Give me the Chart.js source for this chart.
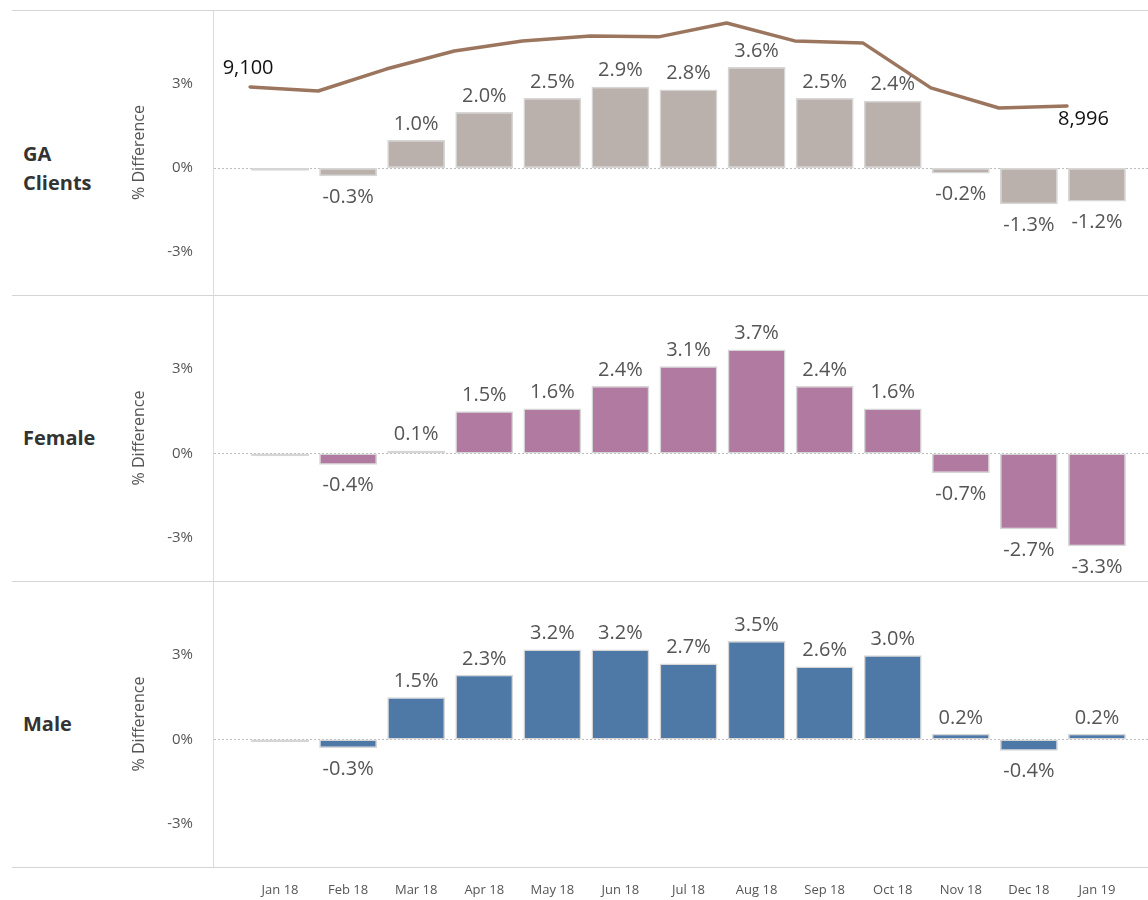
<!DOCTYPE html>
<html>
<head>
<meta charset="utf-8">
<script src="https://cdn.jsdelivr.net/npm/chart.js@4.4.1/dist/chart.umd.min.js"></script>
<style>
  html, body { margin: 0; padding: 0; background: #fff; }
  #page { position: relative; width: 1148px; height: 900px; overflow: hidden; font-family: 'Open Sans', sans-serif; }
  .panel { position: absolute; left: 0; }
  .rowlabel { position: absolute; left: 23px; font-weight: bold; font-size: 20px; color: #333; line-height: 29px; }
  .hline { position: absolute; left: 12px; right: 0; height: 0; border-top: 1.5px solid #d4d4d4; }
  .vline { position: absolute; left: 213px; top: 10px; height: 857px; border-left: 1px solid #dcdcdc; }
</style>
</head>
<body>
<div id="page">
  <div class="hline" style="top:10px"></div>
  <div class="hline" style="top:295px"></div>
  <div class="hline" style="top:581px"></div>
  <div class="hline" style="top:867px"></div>
  <div class="vline"></div>

  <div class="rowlabel" style="top:139px">GA<br>Clients</div>
  <div class="rowlabel" style="top:423px">Female</div>
  <div class="rowlabel" style="top:709px">Male</div>

  <div class="panel" style="top:10px"><canvas id="gaChart" width="1148" height="285"></canvas></div>
  <div class="panel" style="top:295px"><canvas id="femaleChart" width="1148" height="286"></canvas></div>
  <div class="panel" style="top:581px"><canvas id="maleChart" width="1148" height="319"></canvas></div>
</div>

<script>
// ---- data ----
const months = ['Jan 18', 'Feb 18', 'Mar 18', 'Apr 18', 'May 18', 'Jun 18', 'Jul 18',
                'Aug 18', 'Sep 18', 'Oct 18', 'Nov 18', 'Dec 18', 'Jan 19'];
// % difference vs baseline month (first month is the baseline sliver, unlabelled)
const gaClients = [-0.1, -0.3, 1.0, 2.0, 2.5, 2.9, 2.8, 3.6, 2.5, 2.4, -0.2, -1.3, -1.2];
const female    = [-0.1, -0.4, 0.1, 1.5, 1.6, 2.4, 3.1, 3.7, 2.4, 1.6, -0.7, -2.7, -3.3];
const male      = [-0.1, -0.3, 1.5, 2.3, 3.2, 3.2, 2.7, 3.5, 2.6, 3.0, 0.2, -0.4, 0.2];
// client count line (top panel)
const clientCounts = [9100, 9078, 9198, 9297, 9352, 9379, 9374, 9450, 9352, 9341, 9095, 8985, 8996];
const yTicks = [-3, 0, 3];

const FONT = "'Open Sans', sans-serif";
const baseColor = '#d9d9d9';

// dotted zero line across the whole pane
const zeroLine = {
  id: 'zeroLine',
  beforeDatasetsDraw(chart) {
    const y = Math.round(chart.scales.y.getPixelForValue(0)) + 0.5;
    const ctx = chart.ctx;
    ctx.save();
    ctx.strokeStyle = '#bdbdbd';
    ctx.lineWidth = 1;
    ctx.setLineDash([2, 2]);
    ctx.beginPath();
    ctx.moveTo(214, y);
    ctx.lineTo(chart.width, y);
    ctx.stroke();
    ctx.restore();
  }
};

// value labels on bars + end labels on the line
const valueLabels = {
  id: 'valueLabels',
  afterDatasetsDraw(chart) {
    const ctx = chart.ctx;
    chart.data.datasets.forEach((ds, di) => {
      const meta = chart.getDatasetMeta(di);
      ctx.save();
      if (ds.type === 'line') {
        ctx.font = '20px ' + FONT;
        ctx.fillStyle = '#111';
        const first = meta.data[0];
        const last = meta.data[meta.data.length - 1];
        ctx.textAlign = 'center';
        ctx.textBaseline = 'bottom';
        ctx.fillText(ds.data[0].y.toLocaleString('en-US'), first.x - 2, first.y - 9);
        ctx.textAlign = 'left';
        ctx.textBaseline = 'top';
        ctx.fillText(ds.data[ds.data.length - 1].y.toLocaleString('en-US'), last.x - 9, last.y + 3);
      } else {
        ctx.font = '20px ' + FONT;
        ctx.fillStyle = '#555';
        ctx.textAlign = 'center';
        meta.data.forEach((bar, i) => {
          if (i === 0) return;
          const v = ds.data[i];
          const txt = v.toFixed(1) + '%';
          if (v >= 0) {
            ctx.textBaseline = 'bottom';
            ctx.fillText(txt, bar.x, bar.y - 6);
          } else {
            ctx.textBaseline = 'top';
            ctx.fillText(txt, bar.x, bar.y + 11);
          }
        });
      }
      ctx.restore();
    });
  }
};

function barDataset(values, color) {
  return {
    type: 'bar',
    data: values,
    backgroundColor: values.map((v, i) => i === 0 ? baseColor : color),
    borderColor: '#d6d6d6',
    borderWidth: 1.5,
    borderSkipped: false,
    grouped: false,
    categoryPercentage: 1,
    barPercentage: 0.85,
    order: 1
  };
}

function makeChart(id, datasets, showX, extraScales) {
  const scales = {
    x: {
      type: 'category',
      display: showX,
      grid: { display: false },
      border: { display: false },
      ticks: { color: '#555', font: { family: FONT, size: 13 }, padding: 7, maxRotation: 0, autoSkip: false },
      afterFit: s => { if (showX) { s.height = 33; } s.paddingLeft = 0; s.paddingRight = 0; }
    },
    y: {
      min: -4.54,
      max: 5.64,
      grid: { display: false },
      border: { display: false },
      afterBuildTicks: s => { s.ticks = yTicks.map(v => ({ value: v })); },
      afterFit: s => { s.width = 246; s.paddingTop = 0; s.paddingBottom = 0; },
      ticks: { padding: 45, color: '#555', font: { family: FONT, size: 15 }, callback: v => v + '%' },
      title: { display: true, text: '% Difference', color: '#555', font: { family: FONT, size: 16 }, padding: { top: 130, bottom: 0 } }
    }
  };
  Object.assign(scales, extraScales || {});
  return new Chart(document.getElementById(id), {
    type: 'bar',
    data: { labels: months, datasets: datasets },
    options: {
      responsive: false,
      animation: false,
      devicePixelRatio: 1,
      layout: { padding: { left: 0, right: 17, top: 0, bottom: 0 } },
      plugins: { legend: { display: false }, tooltip: { enabled: false } },
      scales: scales
    },
    plugins: [zeroLine, valueLabels]
  });
}

// GA Clients: bars + client count line on its own hidden axes
makeChart('gaChart', [
  {
    type: 'line',
    data: clientCounts.map((c, i) => ({ x: i, y: c })),
    xAxisID: 'x2',
    yAxisID: 'y2',
    borderColor: '#9c755f',
    borderWidth: 3.5,
    borderCapStyle: 'round',
    borderJoinStyle: 'round',
    pointRadius: 0,
    tension: 0,
    order: 0
  },
  barDataset(gaClients, '#bab0ac')
], false, {
  x2: { type: 'linear', display: false, offset: false, min: -0.06, max: 12.94 },
  y2: { type: 'linear', display: false, min: 7962, max: 9521 }
});

makeChart('femaleChart', [barDataset(female, '#b07aa1')], false);
makeChart('maleChart', [barDataset(male, '#4e79a7')], true);
</script>
</body>
</html>
